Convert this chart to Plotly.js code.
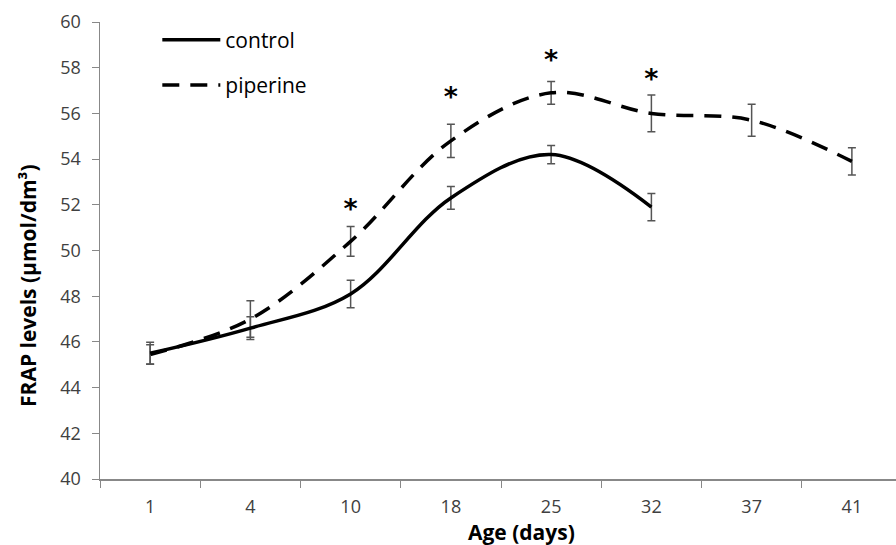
<!DOCTYPE html>
<html>
<head>
<meta charset="utf-8">
<script src="https://cdn.plot.ly/plotly-3.0.1.min.js"></script>
<style>html,body{margin:0;padding:0;background:#fff;}#chart{width:896px;height:545px;}</style>
</head>
<body>
<div id="chart"></div>
<script>
const ages = ["1", "4", "10", "18", "25", "32", "37", "41"];
const controlAges = ["1", "4", "10", "18", "25", "32"];
const controlMean = [45.5, 46.6, 48.1, 52.3, 54.2, 51.9];
const controlErr = [0.48, 0.5, 0.6, 0.5, 0.4, 0.6];
const piperineMean = [45.45, 47.0, 50.4, 54.8, 56.9, 56.0, 55.7, 53.9];
const piperineErr = [0.42, 0.8, 0.65, 0.73, 0.5, 0.8, 0.7, 0.6];
const starAges = ["10", "18", "25", "32"];
const starY = [51.7, 56.6, 58.25, 57.4];
const seriesNames = ["control", "piperine"];
const xTitle = "Age (days)";
const yTitle = "FRAP levels (μmol/dm³)";

const errStyle = {type: "data", visible: true, color: "#555555", thickness: 1.5, width: 4};

const traces = [
  {
    x: ages, y: piperineMean, name: seriesNames[1], type: "scatter", mode: "lines",
    line: {color: "#000", width: 3.5, dash: "17px,11px", shape: "spline", smoothing: 1},
    error_y: Object.assign({array: piperineErr}, errStyle),
    legend: "legend2"
  },
  {
    x: controlAges, y: controlMean, name: seriesNames[0], type: "scatter", mode: "lines",
    line: {color: "#000", width: 3.5, shape: "spline", smoothing: 1},
    error_y: Object.assign({array: controlErr}, errStyle),
    legend: "legend"
  },
  {
    x: starAges, y: starY, type: "scatter", mode: "text", text: starAges.map(() => "*"),
    textposition: "middle center", showlegend: false, hoverinfo: "skip",
    textfont: {family: "DejaVu Sans", size: 27, color: "#000", weight: "bold"}
  }
];

const legendFont = {family: "Open Sans, sans-serif", size: 21, color: "#000"};
const layout = {
  width: 896, height: 545,
  margin: {l: 100, r: 0, t: 22, b: 66},
  paper_bgcolor: "#fff", plot_bgcolor: "#fff",
  showlegend: true,
  legend: {x: 0.072, y: 1.005, xanchor: "left", yanchor: "top", font: legendFont, bgcolor: "rgba(0,0,0,0)", itemwidth: 58, traceorder: "normal"},
  legend2: {x: 0.072, y: 0.906, xanchor: "left", yanchor: "top", font: legendFont, bgcolor: "rgba(0,0,0,0)", itemwidth: 58},
  xaxis: {
    type: "category", range: [-0.5, 7.44], showline: true, linecolor: "#888", linewidth: 1.5,
    ticks: "outside", ticklen: 7, tickcolor: "#888", tickson: "boundaries",
    showgrid: false, zeroline: false,
    tickfont: {family: "Open Sans, sans-serif", size: 18, color: "#404040"},
    ticklabelstandoff: 11
  },
  yaxis: {
    range: [40, 60], dtick: 2, showline: true, linecolor: "#888", linewidth: 1.5,
    ticks: "outside", ticklen: 7, tickcolor: "#888",
    showgrid: false, zeroline: false,
    tickfont: {family: "Open Sans, sans-serif", size: 18, color: "#404040"},
    ticklabelstandoff: 7
  },
  annotations: [
    {text: xTitle, xref: "paper", yref: "paper", x: (521 - 100) / 796, y: -0.115, xanchor: "center", yanchor: "middle",
     showarrow: false, font: {family: "Open Sans, sans-serif", size: 21, color: "#000", weight: "bold"}},
    {text: yTitle, xref: "paper", yref: "paper", x: (28 - 100) / 796, y: 1 - (286 - 22) / 457, xanchor: "center", yanchor: "middle",
     textangle: -90, showarrow: false, font: {family: "Open Sans, sans-serif", size: 21, color: "#000", weight: "bold"}}
  ]
};

Plotly.newPlot("chart", traces, layout, {displayModeBar: false, staticPlot: true});
</script>
</body>
</html>
